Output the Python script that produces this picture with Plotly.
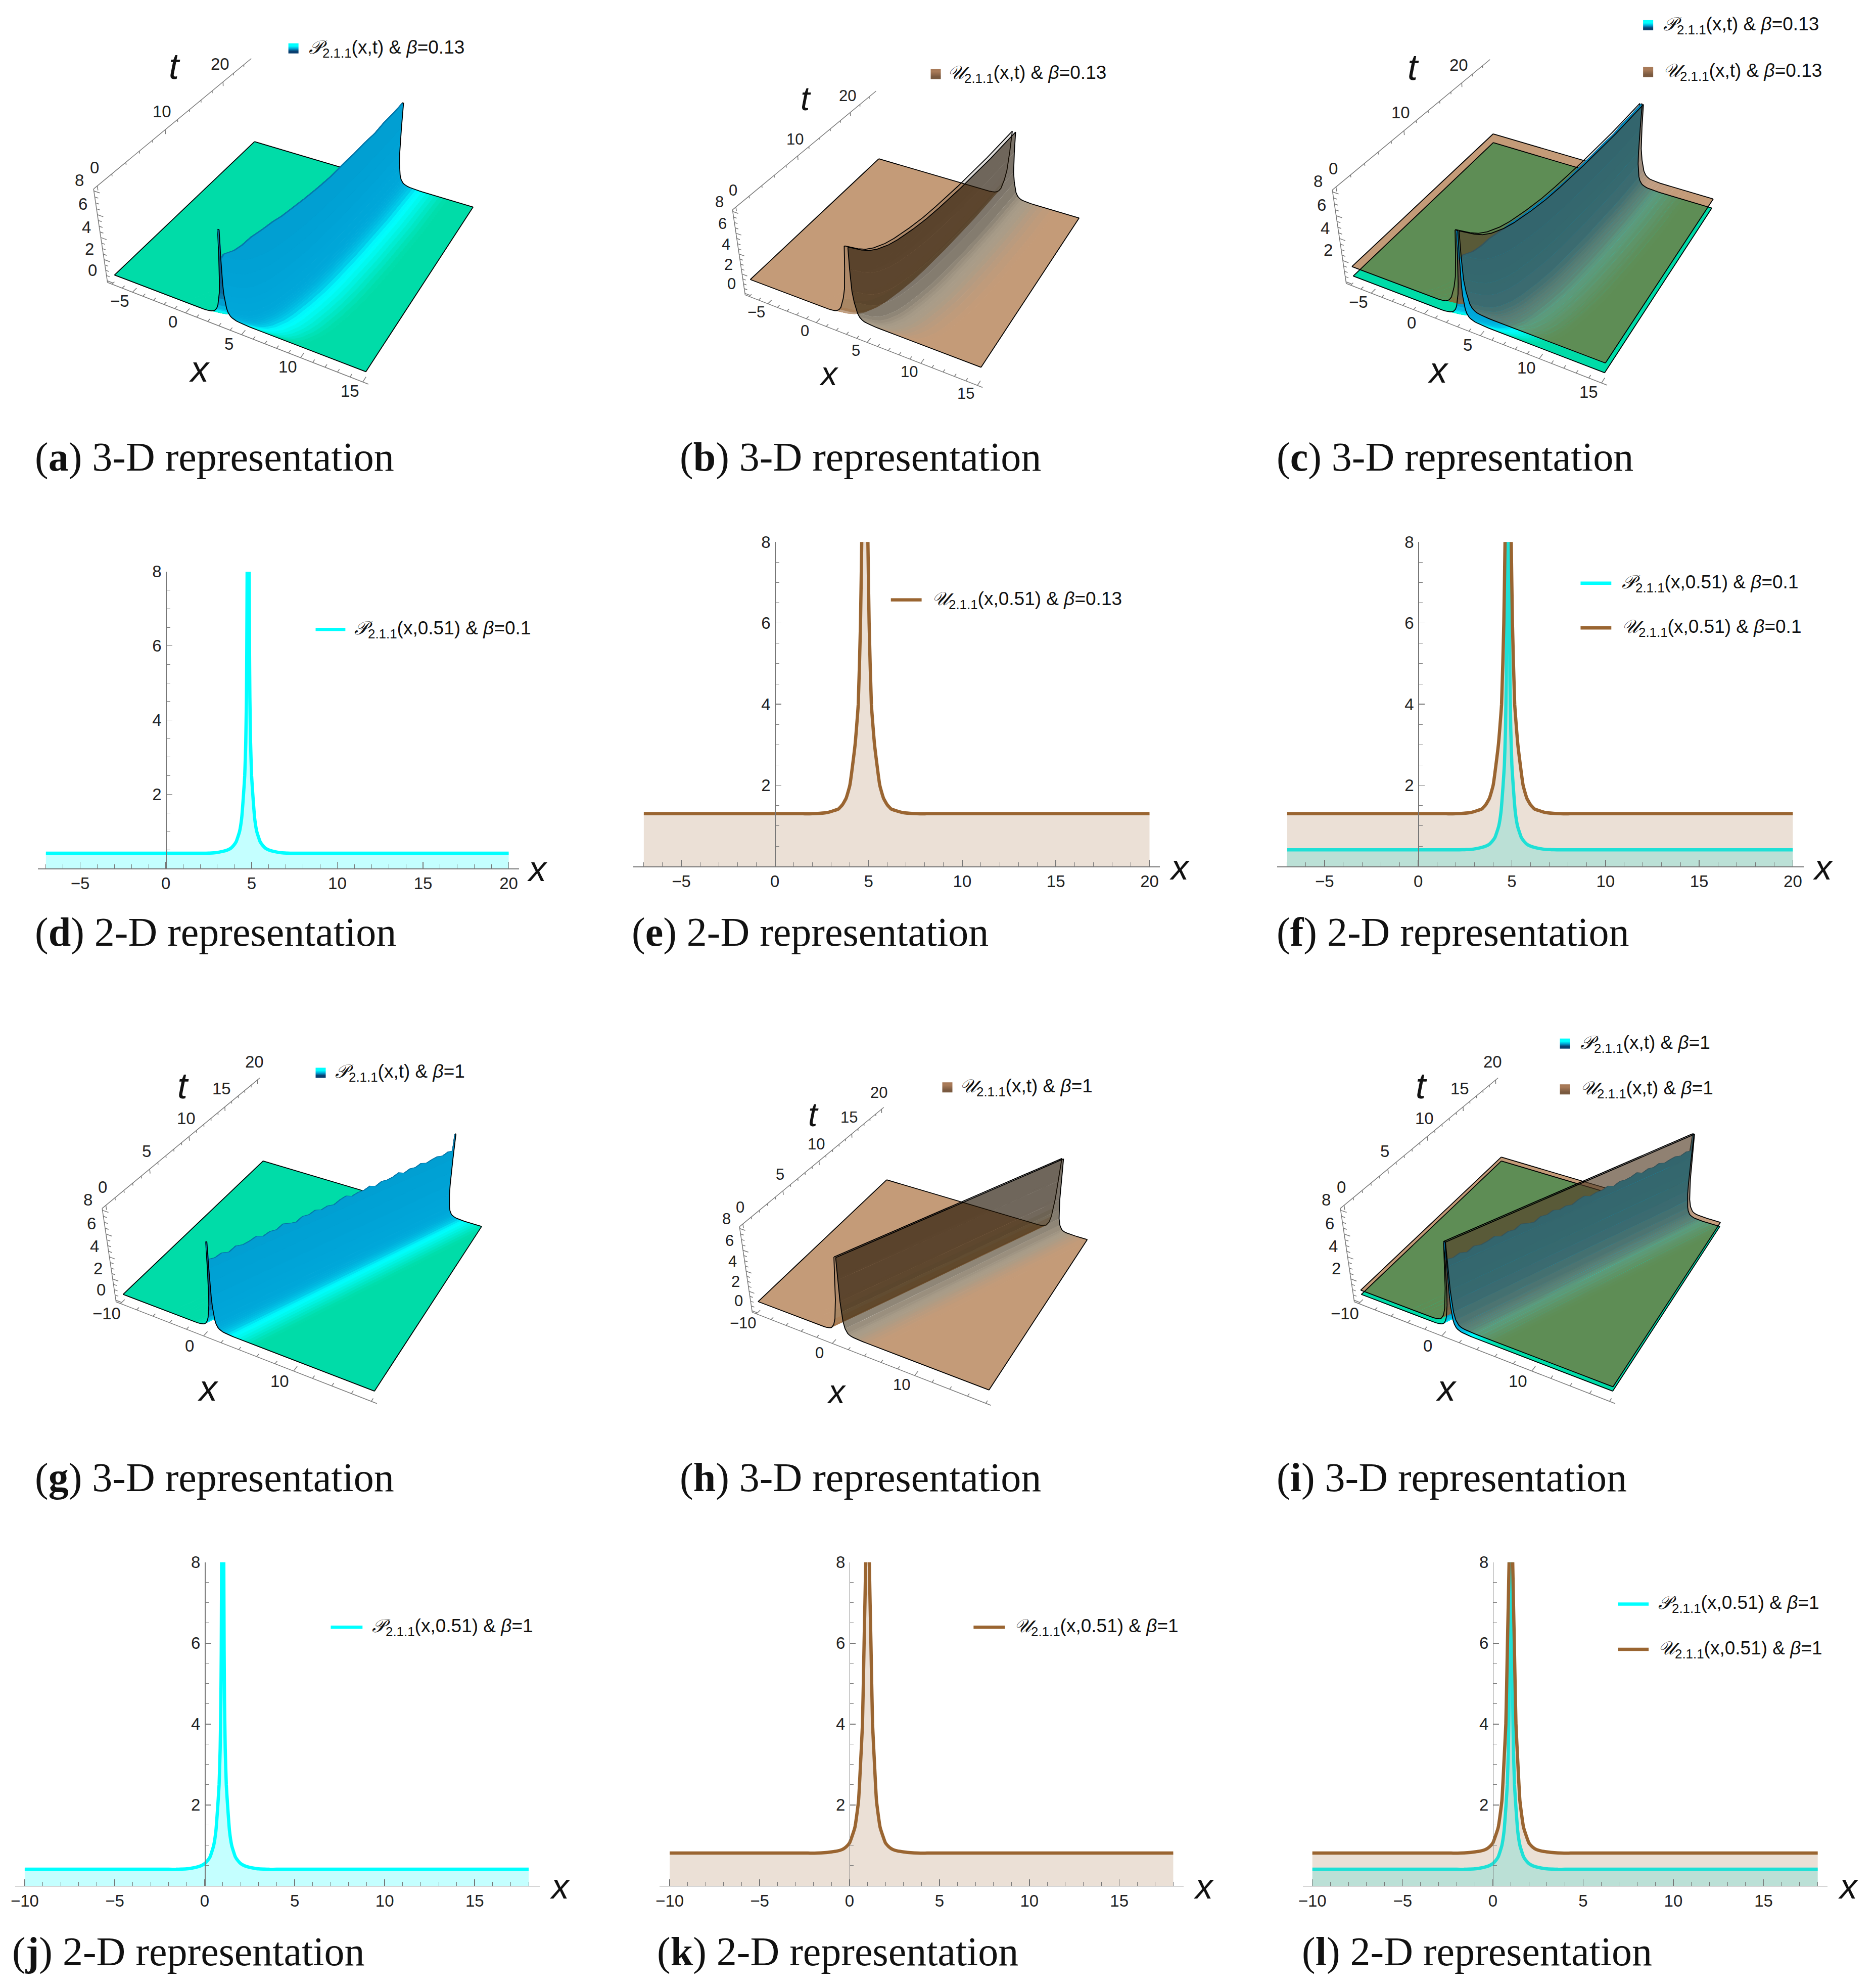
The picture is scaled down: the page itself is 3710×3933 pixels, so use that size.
import numpy as np
import plotly.graph_objects as go

W, H = 3710, 3933
OFFX, OFFY = 4, 8   # where the browser page starts relative to the figure

# ---------- values ----------
t_rows_a = [0, .05, .1, .25, .5, 1, 2, 3, 4, 5, 7, 9, 11, 13, 15, 17, 19, 21, 23, 25]
ridge_a = [3.1, 3.15, 3.4, 4.2, 4.75, 5.2, 5.7, 6.0, 6.2, 6.4, 6.7, 6.9, 7.05, 7.2, 7.3, 7.4, 7.5, 7.55, 7.6, 7.65]
p_top_a = [8, 5.5, 6, 6.5, 7, 7.5, 7.8, 7.95, 7.9, 7.95, 7.95, 7.9, 7.85, 7.95, 7.9, 7.95, 7.9, 8, 7.95, 8]
t_rows_g = [0, .05, .5, 1, 1.5, 2, 2.5, 3, 3.5, 4, 4.5, 5, 5.5, 6, 6.5, 7, 7.5, 8, 8.5, 9, 9.5, 10,
            10.5, 11, 11.5, 12, 12.5, 13, 13.5, 14, 14.5, 15, 15.5, 16, 16.5, 17, 17.5, 18, 18.5, 19, 19.5, 19.95, 20]
ridge_g = [.67, .70, 1.0, 1.32, 1.65, 1.97, 2.3, 2.62, 2.95, 3.27, 3.6, 3.92, 4.25, 4.57, 4.9, 5.22, 5.55, 5.87, 6.2,
           6.52, 6.85, 7.17, 7.5, 7.82, 8.15, 8.47, 8.8, 9.12, 9.45, 9.77, 10.1, 10.42, 10.75, 11.07, 11.4, 11.72,
           12.05, 12.37, 12.7, 13.02, 13.35, 13.64, 13.67]
p_top_g = [8, 6.5, 6.4, 6.55, 6.35, 6.6, 6.45, 6.5, 6.65, 6.4, 6.55, 6.45, 6.7, 6.5, 6.35, 6.6, 6.5, 6.65, 6.45, 6.55,
           6.4, 6.6, 6.7, 6.45, 6.55, 6.5, 6.65, 6.4, 6.6, 6.5, 6.55, 6.7, 6.45, 6.6, 6.5, 6.65, 6.45, 6.55, 6.6, 6.45,
           6.6, 6.5, 8]

p_off = [.06, .08, .1, .14, .2, .27, .38, .5, .6, .7, .85, 1, 1.2, 1.4, 1.7, 2, 2.3, 2.6, 3, 3.4, 3.8, 4.2, 4.6, 5, 100]
p_val = [8, 5.8, 4.6, 3.4, 2.5, 2, 1.35, 1, .85, .72, .62, .55, .5, .47, .44, .42, .415, .41, .41, .41, .41, .41, .41, .41, .41]
p_shade_r = [.28, .28, .29, .29, .3, .3, .31, .32, .33, .34, .37, .40, .45, .50, .58, .66, .7, .73, .78, .83, .88, .93, .97, 1, 1]
p_shade_l = [.02, .03, .05, .08, .12, .2, .35, .5, .6, .7, .8, .88, .92, .95, .97, 1, 1, 1, 1, 1, 1, 1, 1, 1, 1]

u13_off = [.165, .23, .35, .52, .8, 1, 1.2, 1.4, 1.7, 2, 2.4, 2.8, 3.3, 3.8, 4.5, 5, 100]
u13_val = [8, 6, 4, 3, 2, 1.68, 1.52, 1.42, 1.37, 1.33, 1.31, 1.3, 1.3, 1.3, 1.3, 1.3, 1.3]
u1_off = [.1, .19, .28, .39, .5, .7, 1, 1.2, 1.4, 1.7, 2, 2.4, 2.8, 3.3, 3.8, 4.5, 100]
u1_val = [8, 6, 4, 3, 2.1, 1.45, 1.06, .96, .9, .86, .84, .82, .81, .81, .81, .81, .81]
u_shade_r = [0, 0, .02, .05, .15, .3, .38, .45, .5, .52, .58, .68, .78, .86, .95, 1, 1]
u_shade_l = [.1, .1, .15, .3, .6, .8, .9, .95, 1, 1, 1, 1, 1, 1, 1, 1, 1]
u_alpha_l = [.15, .15, .15, .2, .35, .5, .6, .6, .6, .6, .6, .6, .6, .6, .6, .6, .6]
u_alpha_r = [.6] * 17

peak_13 = 4.8
peak_1 = 1.0
above_top = 14   # the flanks meet above the clipped top of the 2-D plots

p_stops = ([0, .3, .55, .7, 1], [(10, 77, 128), (0, 165, 216), (0, 205, 234), (0, 255, 255), (0, 220, 168)])
u_stops = ([0, .5, 1], [(35, 22, 5), (110, 90, 57), (157, 88, 30)])
u_mix_stops = ([0, .5, 1], [(85, 64, 42), (150, 90, 45), (157, 88, 30)])

x_major_a = [-5, 0, 5, 10, 15]
x_minor_a = [-7, -6, -4, -3, -2, -1, 1, 2, 3, 4, 6, 7, 8, 9, 11, 12, 13, 14]
t_major_a = [0, 10, 20]
t_minor_a = [2, 4, 6, 8, 12, 14, 16, 18, 22, 24]
x_major_g = [-10, 0, 10]
x_minor_g = [-8, -6, -4, -2, 2, 4, 6, 8, 12, 14, 16, 18]
t_major_g = [0, 5, 10, 15, 20]
t_minor_g = [1, 2, 3, 4, 6, 7, 8, 9, 11, 12, 13, 14, 16, 17, 18, 19]
z_major = [0, 2, 4, 6, 8]
z_minor = [.5, 1, 1.5, 2.5, 3, 3.5, 4.5, 5, 5.5, 6.5, 7, 7.5]

CYAN, BROWN = '#00ffff', '#9a6531'
FILL_P, FILL_U = 'rgba(0,255,255,0.23)', 'rgba(154,101,49,0.2)'
SANS, SERIF = 'Liberation Sans', 'Liberation Serif'
TICK = '#777777'
LEGEND_SIZE = 37

# ---------- perspective of the 3-D box, solved from its corners in panel (a) ----------
pt = 0.02 / 1.04
box_unit = np.array([[0, 0, 0], [1, 0, 0], [0, 0, 1], [0, 1, 1],
                     [pt, pt, .0685], [1 - pt, pt, .0685], [1 - pt, 1 - pt, .0685], [pt, 1 - pt, .0685],
                     [.668, .98, .981], [.46, pt, .981], [.832, .98, .981], [.386, pt, .981]], float)
box_px = np.array([[206, 551], [724, 754], [180, 364], [494, 110],
                   [221, 539], [720, 732], [936, 407], [502, 277],
                   [792, 196], [441, 456], [881, 217], [381, 439]], float)
A_REF = box_px[0]
rows = []
for (u, v, w), (sx, sy) in zip(box_unit, (box_px - A_REF) / 500):
    rows.append([u, v, w, 1, 0, 0, 0, 0, -sx * u, -sx * v, -sx * w, -sx])
    rows.append([0, 0, 0, 0, u, v, w, 1, -sy * u, -sy * v, -sy * w, -sy])
CAM = np.linalg.svd(np.array(rows))[2][-1].reshape(3, 4)


def project(u, v, w, A, s):
    q = np.stack([u, v, w, np.ones_like(u)], axis=-1) @ CAM.T
    return A[0] + 500 * s * q[..., 0] / q[..., 2], A[1] + 500 * s * q[..., 1] / q[..., 2]


def shade_rgb(val, stops):
    return [float(np.interp(val, stops[0], [c[k] for c in stops[1]])) for k in range(3)]


def px(v): return (v - OFFX) / W
def py(v): return 1 - (v - OFFY) / H


traces, annots = [], []
layout = dict(width=W, height=H, margin=dict(l=0, r=0, t=0, b=0), autosize=False,
              paper_bgcolor='white', plot_bgcolor='rgba(0,0,0,0)', hovermode=False, showlegend=False,
              xaxis7=dict(domain=[0, 1], range=[OFFX, W + OFFX], visible=False, anchor='y7'),
              yaxis7=dict(domain=[0, 1], range=[H + OFFY, OFFY], visible=False, anchor='x7'))


def text_at(x, y, text, size, xanchor='center', family=SANS, color='#222'):
    annots.append(dict(x=px(x), y=py(y), xref='paper', yref='paper', text=text, showarrow=False, xanchor=xanchor,
                       yanchor='middle', font=dict(family=family, size=size, color=color)))


class Panel:
    """Maps data values (x, t, z) of one 3-D panel to the page through the solved perspective."""

    def __init__(self, A, s, xr, tr):
        self.A, self.s = A, s
        self.xl, self.xw = xr[0] - .02 * (xr[1] - xr[0]), (xr[1] - xr[0]) * 1.04
        self.tl, self.tw = tr[0] - .02 * (tr[1] - tr[0]), (tr[1] - tr[0]) * 1.04
        self.zl, self.zw = -.16, 8.32

    def map(self, x, t, z):
        x, t, z = np.asarray(x, float), np.asarray(t, float), np.asarray(z, float)
        return project((x - self.xl) / self.xw, (t - self.tl) / self.tw, (z - self.zl) / self.zw, self.A, self.s)


def polyline_trace(segs, color, width):
    xs, ys = [], []
    for sx, sy in segs:
        xs.extend(list(np.atleast_1d(sx)) + [None]); ys.extend(list(np.atleast_1d(sy)) + [None])
    traces.append(go.Scatter(x=xs, y=ys, xaxis='x7', yaxis='y7', mode='lines', showlegend=False, hoverinfo='skip',
                             line=dict(color=color, width=width)))


def add_axes(pan, xmaj, xmin, tmaj, tmin, zmaj, size, lab_x):
    xa, xb = pan.xl, pan.xl + pan.xw
    ta, tb = pan.tl, pan.tl + pan.tw
    za, zb = pan.zl, pan.zl + pan.zw
    segs = [pan.map([xa, xb], [ta, ta], [za, za]), pan.map([xa, xa], [ta, ta], [za, zb]),
            pan.map([xa, xa], [ta, tb], [zb, zb])]
    for v in xmaj + xmin:
        segs.append(pan.map([v, v], [ta, ta + pan.tw * (.024 if v in xmaj else .014)], [za, za]))
    for v in tmaj + tmin:
        segs.append(pan.map([xa, xa], [v, v], [zb, zb - pan.zw * (.045 if v in tmaj else .025)]))
    for v in z_major + z_minor:
        segs.append(pan.map([xa, xa + pan.xw * (.024 if v in z_major else .014)], [ta, ta], [v, v]))
    polyline_trace(segs, TICK, 1.5)
    s = pan.s
    for v in xmaj:
        x_, y_ = pan.map(v, ta, za)
        text_at(float(x_) + lab_x[0] * s, float(y_) + lab_x[1] * s, str(v).replace('-', '\u2212'), size)
    for v in tmaj:
        x_, y_ = pan.map(xa, v, zb)
        text_at(float(x_) - 6 * s, float(y_) - 36 * s, str(v), size)
    for v in zmaj:
        x_, y_ = pan.map(xa, ta, v)
        text_at(float(x_) - 29 * s, float(y_) - 21 * s, str(v), size)


def strip(pan, X, Y, Z, j0, j1, rgb, alpha, edge):
    sx0, sy0 = pan.map(X[:, j0], Y[:, j0], Z[:, j0])
    sx1, sy1 = pan.map(X[:, j1], Y[:, j1], Z[:, j1])
    col = f'rgba({rgb[0]:.0f},{rgb[1]:.0f},{rgb[2]:.0f},{alpha:.2f})'
    traces.append(go.Scatter(x=np.r_[sx0, sx1[::-1], sx0[0]], y=np.r_[sy0, sy1[::-1], sy0[0]], xaxis='x7', yaxis='y7',
                             mode='lines', fill='toself', fillcolor=col, showlegend=False, hoverinfo='skip',
                             line=dict(color=col if edge else 'rgba(0,0,0,0)', width=1 if edge else 0)))


def surface_strips(pan, t_rows, ridge, off, val, sr, sl, ar, al, top, xr, stops, edge, over_white):
    """Builds the strips of one surface; returns left half, right half and its black outlines."""
    o = np.array(off)
    n = o.size
    offs = np.r_[-o[::-1], o]
    zs = np.r_[val[::-1], val]
    sh = np.r_[sl[::-1], sr]
    al_ = np.r_[al[::-1], ar]
    X = np.clip(np.array(ridge)[:, None] + offs[None, :], xr[0], xr[1])
    Y = np.repeat(np.array(t_rows, float)[:, None], offs.size, axis=1)
    Z = np.repeat(zs[None, :], len(t_rows), axis=0)
    if top is not None:
        Z = np.minimum(Z, np.array(top)[:, None])

    def half(js):
        for j in js:
            rgb = shade_rgb((sh[j] + sh[j + 1]) / 2, stops)
            a = (al_[j] + al_[j + 1]) / 2
            if over_white and abs(offs[j] + offs[j + 1]) / 2 >= 1:
                # a translucent sheet with only the white page behind it: same colour, without seams
                rgb = [a * c + (1 - a) * 255 for c in rgb]
                strip(pan, X, Y, Z, j, j + 1, rgb, 1, True)
            else:
                strip(pan, X, Y, Z, j, j + 1, rgb, a, edge)

    far = [pan.map(X[:, 0], Y[:, 0], Z[:, 0])]
    near = [pan.map(X[:, -1], Y[:, -1], Z[:, -1])]
    first_right = n if top is None else n - 1
    for row in (0, -1):
        far.append(pan.map(X[row, :n], Y[row, :n], Z[row, :n]))
        near.append(pan.map(X[row, first_right:], Y[row, first_right:], Z[row, first_right:]))
    if top is None:
        near.append(pan.map(X[:, n - 1], Y[:, n - 1], Z[:, n - 1]))
        near.append(pan.map(X[:, n], Y[:, n], Z[:, n]))
    return (lambda: half(range(0, n - 1))), (lambda: half(range(first_right - 0, 2 * n - 1))), far, near


def PN_P(arg, b): return f'<i>\U0001D4AB</i><sub>2.1.1</sub>({arg}) &amp; <i>\u03b2</i>={b}'
def PN_U(arg, b): return f'<i>\U0001D4B0</i><sub>2.1.1</sub>({arg}) &amp; <i>\u03b2</i>={b}'


panels3d = [
    dict(A=(206, 548), s=1.00, kind='P', set='a', zmaj=[0, 2, 4, 6, 8], leg=[('P', 567, 86, 605, '0.13')]),
    dict(A=(1471, 573), s=.91, kind='U', set='a', zmaj=[0, 2, 4, 6, 8], leg=[('U', 1841, 137, 1873, '0.13')]),
    dict(A=(2663, 550), s=1.00, kind='PU', set='a', zmaj=[2, 4, 6, 8],
         leg=[('P', 3254, 40, 3292, '0.13'), ('U', 3254, 133, 3292, '0.13')]),
    dict(A=(223, 2574), s=1.00, kind='P', set='g', zmaj=[0, 2, 4, 6, 8], leg=[('P', 621, 2122, 658, '1')]),
    dict(A=(1485, 2595), s=.915, kind='U', set='g', zmaj=[0, 2, 4, 6, 8], leg=[('U', 1864, 2151, 1897, '1')]),
    dict(A=(2679, 2574), s=1.00, kind='PU', set='g', zmaj=[2, 4, 6, 8],
         leg=[('P', 3089, 2064, 3128, '1'), ('U', 3089, 2155, 3128, '1')]),
]
swatch_p = [[0, '#0a3f70'], [.5, '#00a5d8'], [1, '#00ffff']]
swatch_u = [[0, '#7a5a40'], [1, '#a87a58']]

for pn in panels3d:
    s = pn['s']
    if pn['set'] == 'a':
        tr_, rd, xr_d, tr_d, top = t_rows_a, ridge_a, (-7, 15), (0, 25), p_top_a
        xmaj, xmin, tmaj, tmin, lab_x = x_major_a, x_minor_a, t_major_a, t_minor_a, (-25, 18)
        uo, uv = u13_off, u13_val
    else:
        tr_, rd, xr_d, tr_d, top = t_rows_g, ridge_g, (-10, 18), (0, 20), p_top_g
        xmaj, xmin, tmaj, tmin, lab_x = x_major_g, x_minor_g, t_major_g, t_minor_g, (-28, 20)
        uo, uv = u1_off, u1_val
    pan = Panel(pn['A'], s, xr_d, tr_d)
    add_axes(pan, xmaj, xmin, tmaj, tmin, pn['zmaj'], 33 if s == 1 else 31, lab_x)
    parts = {}
    if 'P' in pn['kind']:
        parts['P'] = surface_strips(pan, tr_, rd, p_off, p_val, p_shade_r, p_shade_l, [1] * 25, [1] * 25, top, xr_d,
                                    p_stops, True, False)
    if 'U' in pn['kind']:
        parts['U'] = surface_strips(pan, tr_, rd, uo, uv, u_shade_r, u_shade_l, u_alpha_r, u_alpha_l, None, xr_d,
                                    u_mix_stops if 'P' in pn['kind'] else u_stops, False, 'P' not in pn['kind'])
    for key in ('P', 'U'):
        if key in parts:
            parts[key][0]()
    polyline_trace(sum((parts[k][2] for k in parts), []), 'black', 1.8)
    for key in ('P', 'U'):
        if key in parts:
            parts[key][1]()
    polyline_trace(sum((parts[k][3] for k in parts), []), 'black', 1.8)
    for kind, sw_x, sw_y, tx_x, b in pn['leg']:
        traces.append(go.Heatmap(x=[sw_x + 5, sw_x + 15], y=[sw_y + 5, sw_y - 5], z=[[0, 0], [1, 1]], zsmooth='best',
                                 colorscale=swatch_p if kind == 'P' else swatch_u, showscale=False, xaxis='x7',
                                 yaxis='y7', hoverinfo='skip'))
        text_at(tx_x, sw_y, (PN_P if kind == 'P' else PN_U)('x,t', b), LEGEND_SIZE, 'left', color='#111')
    size_ = 72 if s == 1 else 66
    text_at(pn['A'][0] + 135 * s, pn['A'][1] - 426 * s, '<i>t</i>', size_, color='#111')
    text_at(pn['A'][0] + 185 * s, pn['A'][1] + 175 * s, '<i>x</i>', size_, color='#111')

# ---------- 2-D panels ----------
x_ticks_13 = [-5, 0, 5, 10, 15, 20]
x_minor_13 = [-7, -6, -4, -3, -2, -1, 1, 2, 3, 4, 6, 7, 8, 9, 11, 12, 13, 14, 16, 17, 18, 19]
x_ticks_1 = [-10, -5, 0, 5, 10, 15]
x_minor_1 = [-9, -8, -7, -6, -4, -3, -2, -1, 1, 2, 3, 4, 6, 7, 8, 9, 11, 12, 13, 14, 16, 17, 18]
y_ticks = [2, 4, 6, 8]
y_minor = [.5, 1, 1.5, 2.5, 3, 3.5, 4.5, 5, 5.5, 6.5, 7, 7.5]
x_ends_13 = (-7, 20)
x_ends_1 = (-10, 18)


def curve(peak, off, val, ends):
    o = np.array(off)
    xs = np.clip(np.r_[peak - o[::-1], peak, peak + o], ends[0], ends[1])
    return xs, np.r_[val[::-1], above_top, val]


panels2d = [
    dict(n=1, x0=324, ppu=34.0, left=70, right=1024, y8=1126, y0=1716, kind='P', set='13',
         xl=(1061, 1717), leg=[('P', 621, 680, 1241, 696, '0.1')]),
    dict(n=2, x0=1532, ppu=37.15, left=1251, right=2296, y8=1067, y0=1712, kind='U', set='13',
         xl=(2335, 1714), leg=[('U', 1762, 1823, 1182, 1841, '0.13')]),
    dict(n=3, x0=2808, ppu=37.15, left=2528, right=3573, y8=1067, y0=1712, kind='PU', set='13',
         xl=(3611, 1714), leg=[('P', 3130, 3191, 1149, 3210, '0.1'), ('U', 3130, 3191, 1238, 3210, '0.1')]),
    dict(n=4, x0=401, ppu=35.7, left=25, right=1066, y8=3095, y0=3738, kind='P', set='1',
         xl=(1106, 3739), leg=[('P', 651, 714, 3224, 731, '1')]),
    dict(n=5, x0=1680, ppu=35.67, left=1303, right=2343, y8=3095, y0=3738, kind='U', set='1',
         xl=(2383, 3739), leg=[('U', 1926, 1988, 3224, 2005, '1')]),
    dict(n=6, x0=2956, ppu=35.8, left=2579, right=3620, y8=3095, y0=3738, kind='PU', set='1',
         xl=(3661, 3739), leg=[('P', 3204, 3265, 3178, 3282, '1'), ('U', 3204, 3265, 3268, 3282, '1')]),
]
LINE_W = 6.5

for pn in panels2d:
    n = pn['n']
    xa, ya = ('x', 'y') if n == 1 else (f'x{n}', f'y{n}')
    xk, yk = ('xaxis', 'yaxis') if n == 1 else (f'xaxis{n}', f'yaxis{n}')
    if pn['set'] == '13':
        peak, uo, uv, ends, xt, xm = peak_13, u13_off, u13_val, x_ends_13, x_ticks_13, x_minor_13
    else:
        peak, uo, uv, ends, xt, xm = peak_1, u1_off, u1_val, x_ends_1, x_ticks_1, x_minor_1
    if 'P' in pn['kind']:
        xs, ys = curve(peak, p_off, p_val, ends)
        traces.append(go.Scatter(x=xs, y=ys, mode='lines', xaxis=xa, yaxis=ya, hoverinfo='skip',
                                 line=dict(color=CYAN, width=LINE_W, shape='spline', smoothing=.4),
                                 fill='tozeroy', fillcolor=FILL_P))
    if 'U' in pn['kind']:
        xs, ys = curve(peak, uo, uv, ends)
        traces.append(go.Scatter(x=xs, y=ys, mode='lines', xaxis=xa, yaxis=ya, hoverinfo='skip',
                                 line=dict(color=BROWN, width=LINE_W, shape='spline', smoothing=.4),
                                 fill='tozeroy', fillcolor=FILL_U))
    for kind, k0, k1, ky, tx_x, b in pn['leg']:
        polyline_trace([([k0, k1], [ky, ky])], CYAN if kind == 'P' else BROWN, LINE_W)
        text_at(tx_x, ky, (PN_P if kind == 'P' else PN_U)('x,0.51', b), LEGEND_SIZE, 'left', color='#111')
    layout[xk] = dict(domain=[px(pn['left']), px(pn['right'])],
                      range=[(pn['left'] - pn['x0']) / pn['ppu'], (pn['right'] - pn['x0']) / pn['ppu']],
                      anchor=ya, showgrid=False, zeroline=False, showline=True, linecolor=TICK, linewidth=1.5,
                      tickmode='array', tickvals=xt, ticks='inside', ticklen=13, tickcolor=TICK, tickwidth=1.5,
                      minor=dict(tickmode='array', tickvals=xm, ticks='inside', ticklen=8, tickcolor=TICK, tickwidth=1),
                      tickfont=dict(family=SANS, size=33, color='#222'), ticklabelstandoff=0)
    layout[yk] = dict(domain=[py(pn['y0']), py(pn['y8'])], range=[0, 8], anchor='free',
                      position=px(pn['x0']), showgrid=False, zeroline=False, showline=True, linecolor=TICK,
                      linewidth=1.5, tickmode='array', tickvals=y_ticks, ticks='inside', ticklen=11,
                      tickcolor=TICK, tickwidth=1.5,
                      minor=dict(tickmode='array', tickvals=y_minor, ticks='inside', ticklen=7, tickcolor=TICK, tickwidth=1),
                      tickfont=dict(family=SANS, size=33, color='#222'), ticklabelstandoff=2)
    text_at(pn['xl'][0], pn['xl'][1], '<i>x</i>', 70, color='#111')

# ---------- captions ----------
captions = [('a', '3-D', 24.8, 358.2), ('b', '3-D', 534.8, 358.2), ('c', '3-D', 1006.8, 358.2),
            ('d', '2-D', 24.8, 734.8), ('e', '2-D', 496.8, 734.8), ('f', '2-D', 1006.8, 734.8),
            ('g', '3-D', 24.8, 1167.2), ('h', '3-D', 534.8, 1167.2), ('i', '3-D', 1006.8, 1167.2),
            ('j', '2-D', 6.8, 1542.8), ('k', '2-D', 516.8, 1542.8), ('l', '2-D', 1026.8, 1542.8)]
for let, dim, cx_, cy_ in captions:
    text_at(cx_ * 2.508, cy_ * 2.508, f'(<b>{let}</b>) {dim} representation', 80, 'left', SERIF, '#111')

layout['annotations'] = annots

fig = go.Figure(data=traces, layout=layout)
fig.write_html('out.html', config=dict(staticPlot=True),
               post_script="document.body.style.margin='0';document.body.style.overflow='hidden';")
